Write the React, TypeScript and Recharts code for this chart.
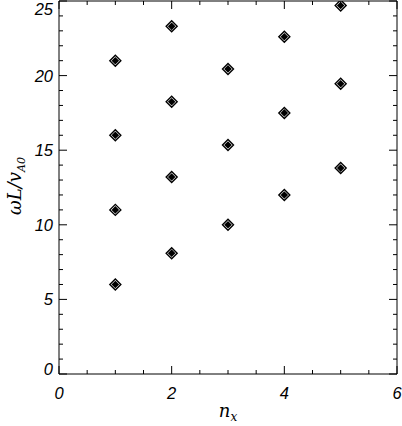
import React from 'react';
import { ScatterChart, Scatter, XAxis, YAxis, Label } from 'recharts';

// mode number along x and the normalised frequency of each mode
const modeX = [1, 1, 1, 1, 2, 2, 2, 2, 3, 3, 3, 4, 4, 4, 5, 5, 5];
const modeFreq = [6.0, 11.0, 16.0, 21.0, 8.1, 13.2, 18.25, 23.3, 10.0, 15.35, 20.45, 12.0, 17.5, 22.6, 13.8, 19.45, 24.7];

const xTicks = [0, 0.5, 1, 1.5, 2, 2.5, 3, 3.5, 4, 4.5, 5, 5.5, 6];
const xLabels = [0, 2, 4, 6];
const yTicks = [0, 1, 2, 3, 4, 5, 6, 7, 8, 9, 10, 11, 12, 13, 14, 15, 16, 17, 18, 19, 20, 21, 22, 23, 24, 25];
const yLabels = [0, 5, 10, 15, 20, 25];

const data = modeX.map((x, i) => ({ x, y: modeFreq[i] }));

const TICK_FONT = '"Liberation Sans", Arial, sans-serif';
const TITLE_FONT = '"DejaVu Serif", "Liberation Serif", serif';

const BottomTick = (props: any) => {
  const { x, y, payload } = props;
  const major = xLabels.includes(payload.value);
  return (
    <g>
      <line x1={x} y1={y} x2={x} y2={y - (major ? 8 : 4)} stroke="#000" />
      {major && (
        <text x={x} y={y + 25} textAnchor="middle" fontSize={16.5} fontStyle="italic" fontFamily={TICK_FONT} fill="#000">
          {payload.value}
        </text>
      )}
    </g>
  );
};

const TopTick = (props: any) => {
  const { x, y, payload } = props;
  const major = xLabels.includes(payload.value);
  return <line x1={x} y1={y} x2={x} y2={y + (major ? 8 : 4)} stroke="#000" />;
};

const LeftTick = (props: any) => {
  const { x, y, payload } = props;
  const major = yLabels.includes(payload.value);
  const base = Math.min(Math.max(y + 6, 15), 375);
  return (
    <g>
      <line x1={x} y1={y} x2={x + (major ? 8 : 4)} y2={y} stroke="#000" />
      {major && (
        <text x={x - 6} y={base} textAnchor="end" fontSize={16.5} fontStyle="italic" fontFamily={TICK_FONT} fill="#000">
          {payload.value}
        </text>
      )}
    </g>
  );
};

const RightTick = (props: any) => {
  const { x, y, payload } = props;
  const major = yLabels.includes(payload.value);
  return <line x1={x} y1={y} x2={x - (major ? 8 : 4)} y2={y} stroke="#000" />;
};

const Diamond = (props: any) => {
  const { cx, cy } = props;
  if (cx == null || cy == null) return null;
  const o = 5.5;
  const i = 3.8;
  return (
    <g>
      <path d={`M${cx},${cy - o}L${cx + o},${cy}L${cx},${cy + o}L${cx - o},${cy}Z`} fill="#fff" stroke="#000" strokeWidth={1.4} />
      <path d={`M${cx},${cy - i}L${cx + i},${cy}L${cx},${cy + i}L${cx - i},${cy}Z`} fill="#000" />
    </g>
  );
};

const XTitle = (props: any) => {
  const vb = props.viewBox;
  const cx = vb.x + vb.width / 2;
  return (
    <text x={cx} y={417} textAnchor="middle" fontFamily={TITLE_FONT} fontStyle="italic" fontSize={18} fill="#000">
      n<tspan fontSize={12} dy={4}>x</tspan>
    </text>
  );
};

const YTitle = () => (
  <text transform="translate(21,186) rotate(-90)" textAnchor="middle" fontFamily={TITLE_FONT} fontStyle="italic" fontSize={18} fill="#000">
    ωL/v<tspan fontSize={11} dy={4}>A0</tspan>
  </text>
);

export default function App() {
  return (
    <div style={{ position: 'absolute', left: 0, top: 0, background: '#fff' }}>
      <ScatterChart width={402} height={426} margin={{ top: 0, right: 0, bottom: 0, left: 0 }}>
        <XAxis
          xAxisId="b"
          dataKey="x"
          type="number"
          domain={[0, 6]}
          ticks={xTicks}
          interval={0}
          height={52}
          tickSize={0}
          tickMargin={0}
          tickLine={false}
          tick={<BottomTick />}
          axisLine={{ stroke: '#000' }}
          allowDataOverflow
        >
          <Label content={<XTitle />} />
        </XAxis>
        <XAxis
          xAxisId="t"
          orientation="top"
          dataKey="x"
          type="number"
          domain={[0, 6]}
          ticks={xTicks}
          interval={0}
          height={1}
          tickSize={0}
          tickMargin={0}
          tickLine={false}
          tick={<TopTick />}
          axisLine={{ stroke: '#000' }}
          allowDataOverflow
        />
        <YAxis
          yAxisId="l"
          dataKey="y"
          type="number"
          domain={[0, 25]}
          ticks={yTicks}
          interval={0}
          width={59}
          tickSize={0}
          tickMargin={0}
          tickLine={false}
          tick={<LeftTick />}
          axisLine={{ stroke: '#000' }}
          allowDataOverflow
        >
          <Label content={<YTitle />} />
        </YAxis>
        <YAxis
          yAxisId="r"
          orientation="right"
          dataKey="y"
          type="number"
          domain={[0, 25]}
          ticks={yTicks}
          interval={0}
          width={5}
          tickSize={0}
          tickMargin={0}
          tickLine={false}
          tick={<RightTick />}
          axisLine={{ stroke: '#000' }}
          allowDataOverflow
        />
        <Scatter xAxisId="t" yAxisId="r" data={data} shape={() => null} isAnimationActive={false} />
        <Scatter xAxisId="b" yAxisId="l" data={data} shape={<Diamond />} isAnimationActive={false} />
      </ScatterChart>
    </div>
  );
}
